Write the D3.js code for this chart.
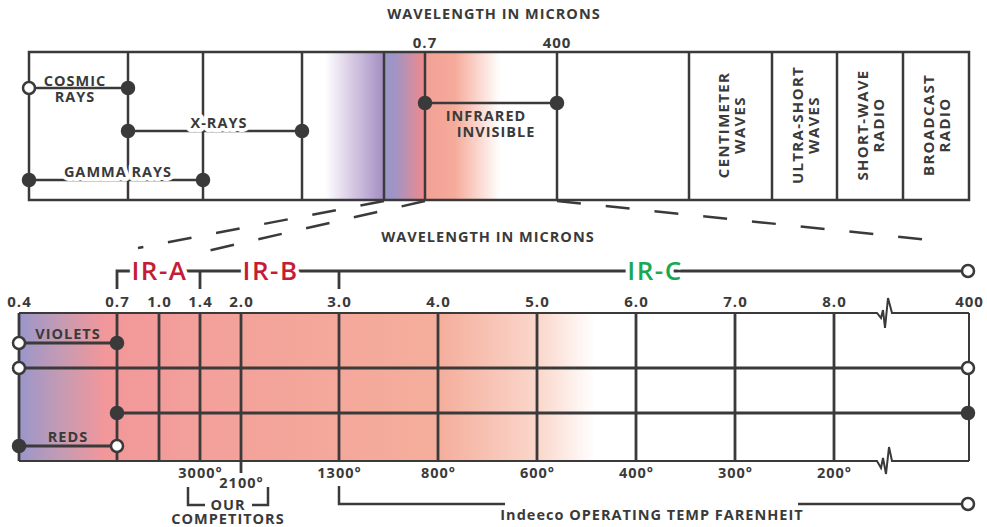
<!DOCTYPE html>
<html>
<head>
<meta charset="utf-8">
<script src="https://cdn.jsdelivr.net/npm/d3@7"></script>
<style>
  body { margin: 0; background: #fff; }
  text { font-family: "Open Sans", sans-serif; font-weight: 700; fill: #3a3a3a; letter-spacing: 1px; }
  .halo { stroke: #fff; stroke-width: 8px; paint-order: stroke; stroke-linejoin: round; }
</style>
</head>
<body>
<div id="chart"></div>
<script>
// ---- data ----
// upper spectrum: column edges (layout) and the ranges spanning them
const spectrumEdges = [29, 128, 203, 302, 384, 425, 557, 689, 772, 837, 903, 969];
const spectrumTickEdges = [5, 6];
const spectrumTickLabels = ["0.7", "400"];
const rangeNames = [["COSMIC", "RAYS"], ["X-RAYS"], ["GAMMA RAYS"], ["INFRARED", "INVISIBLE"]];
const rangeFrom = [0, 1, 0, 5];
const rangeTo = [1, 3, 2, 6];
const rangeStartOpen = [true, false, false, false];
const radioBands = [["CENTIMETER", "WAVES"], ["ULTRA-SHORT", "WAVES"], ["SHORT-WAVE", "RADIO"], ["BROADCAST", "RADIO"]];
const radioCols = [7, 8, 9, 10];

// lower, zoomed infrared scale
const microns = [0.4, 0.7, 1.0, 1.4, 2.0, 3.0, 4.0, 5.0, 6.0, 7.0, 8.0, 400];
const micronLabels = ["0.4", "0.7", "1.0", "1.4", "2.0", "3.0", "4.0", "5.0", "6.0", "7.0", "8.0", "400"];
const tempsF = [null, null, null, 3000, 2100, 1300, 800, 600, 400, 300, 200, null];
const irNames = ["IR-A", "IR-B", "IR-C"];
const irBounds = [0.7, 1.4, 3.0, 400];
const irColors = ["#c41d35", "#c41d35", "#19a853"];
const bandNames = ["VIOLETS", "", "", "REDS"];
const bandFrom = [0.4, 0.4, 0.7, 0.4];
const bandTo = [0.7, 400, 400, 0.7];
const bandEnds = [["open", "filled"], ["open", "open"], ["filled", "filled"], ["filled", "open"]];

// ---- setup ----
const width = 987, height = 527;
const ink = "#3a3a3a";
const svg = d3.select("#chart").append("svg")
    .attr("width", width)
    .attr("height", height);
const defs = svg.append("defs");

function gradient(id, stops) {
    const x0 = stops[0][0], x1 = stops[stops.length - 1][0];
    const g = defs.append("linearGradient").attr("id", id)
        .attr("gradientUnits", "userSpaceOnUse")
        .attr("x1", x0).attr("x2", x1).attr("y1", 0).attr("y2", 0);
    g.selectAll("stop").data(stops).enter().append("stop")
        .attr("offset", d => (d[0] - x0) / (x1 - x0))
        .attr("stop-color", d => d[1]);
}

function dot(sel, cx, cy, open) {
    sel.append("circle").attr("cx", cx).attr("cy", cy).attr("r", 6)
        .attr("fill", open ? "#fff" : ink)
        .attr("stroke", ink).attr("stroke-width", 2.5);
}

// ---- upper spectrum box ----
const topY0 = 52, topY1 = 200;
const xe = i => spectrumEdges[i];

gradient("topGrad", [[325, "#ffffff"], [350, "#dacde6"], [383, "#a58fc3"], [384, "#9996c8"],
    [395, "#9f95c4"], [424, "#f0898c"], [426, "#f3a096"], [455, "#f5ab9a"], [500, "#ffffff"]]);
svg.append("rect").attr("x", xe(3)).attr("y", topY0)
    .attr("width", xe(6) - xe(3)).attr("height", topY1 - topY0)
    .attr("fill", "url(#topGrad)");

const upper = svg.append("g");
upper.selectAll(".col").data(spectrumEdges.slice(1, -1)).enter().append("line")
    .attr("x1", d => d).attr("x2", d => d)
    .attr("y1", topY0).attr("y2", topY1)
    .attr("stroke", ink).attr("stroke-width", 2.5);

const rangeY = [88, 131, 180, 103];
upper.selectAll(".range").data(rangeNames).enter().append("line")
    .attr("x1", (d, i) => xe(rangeFrom[i])).attr("x2", (d, i) => xe(rangeTo[i]))
    .attr("y1", (d, i) => rangeY[i]).attr("y2", (d, i) => rangeY[i])
    .attr("stroke", ink).attr("stroke-width", 2.5);

upper.append("rect").attr("x", xe(0)).attr("y", topY0)
    .attr("width", xe(11) - xe(0)).attr("height", topY1 - topY0)
    .attr("fill", "none").attr("stroke", ink).attr("stroke-width", 2.5);

// range labels
const rangeLabelPos = [[75, 86], [219, 128], [118, 177], [486, 121]];
rangeNames.forEach((lines, i) => {
    const t = upper.append("text").attr("class", i === 1 || i === 2 ? "halo" : null)
        .attr("text-anchor", "middle").attr("font-size", 14.5)
        .attr("x", rangeLabelPos[i][0]).attr("y", rangeLabelPos[i][1]);
    lines.forEach((l, j) => t.append("tspan").attr("x", rangeLabelPos[i][0] + (i === 3 ? j * 10 : 0))
        .attr("dy", j ? 16 : 0).text(l));
});

rangeNames.forEach((d, i) => {
    dot(upper, xe(rangeFrom[i]), rangeY[i], rangeStartOpen[i]);
    dot(upper, xe(rangeTo[i]), rangeY[i], false);
});

// radio columns, rotated
radioBands.forEach((lines, i) => {
    const cx = (xe(radioCols[i]) + xe(radioCols[i] + 1)) / 2;
    const t = upper.append("text").attr("text-anchor", "middle").attr("font-size", 15)
        .style("letter-spacing", "1.3px")
        .attr("transform", `translate(${cx - 2},125) rotate(-90)`);
    lines.forEach((l, j) => t.append("tspan").attr("x", 0).attr("dy", j ? 16 : 0).text(l));
});

upper.append("text").attr("x", 494).attr("y", 19).attr("text-anchor", "middle")
    .attr("font-size", 14.5).text("WAVELENGTH IN MICRONS");
upper.selectAll(".tt").data(spectrumTickLabels).enter().append("text")
    .attr("x", (d, i) => xe(spectrumTickEdges[i])).attr("y", 48)
    .attr("text-anchor", "middle").attr("font-size", 15).text(d => d);

// ---- dashed zoom lines ----
const zoomLines = [[[384, 201], [138, 248]], [[425, 201], [207, 251]], [[557, 201], [930, 240]]];
svg.selectAll(".zoom").data(zoomLines).enter().append("path")
    .attr("d", d3.line())
    .attr("stroke", ink).attr("stroke-width", 2.5)
    .attr("stroke-dasharray", "24 25").attr("fill", "none");

// ---- lower infrared box ----
const x = d3.scaleLinear()
    .domain([0.4, 0.7, 1.0, 1.4, 2.0, 3.0, 8.0, 400])
    .range([19, 117, 159, 200, 241, 339, 834, 969]);
const botY0 = 313, botY1 = 461;
const bandY = [343, 368, 413, 446];

gradient("botGrad", [[19, "#9a96ca"], [60, "#c49bb4"], [105, "#f2979a"], [200, "#f3a09a"],
    [440, "#f5ae9c"], [538, "#fad7cb"], [595, "#ffffff"]]);
svg.append("rect").attr("x", x(0.4)).attr("y", botY0)
    .attr("width", x(400) - x(0.4)).attr("height", botY1 - botY0)
    .attr("fill", "url(#botGrad)");

const lower = svg.append("g");

// top/bottom edges with break marks between 8.0 and 400
const brk = 877;
const zig = [[0, 0], [4, 5], [6, -3], [8, 15], [11, -15], [15, 0]];
const zigBottom = [[0, 0], [4, 7], [6, -3], [9, 13], [12, -14], [15, 0]];
[[botY0, zig], [botY1, zigBottom]].forEach(([y, z]) => {
    const pts = [[x(0.4), y]].concat(z.map(p => [brk + p[0], y + p[1]]), [[x(400), y]]);
    lower.append("path").attr("d", d3.line()(pts))
        .attr("fill", "none").attr("stroke", ink).attr("stroke-width", 2)
        .attr("stroke-linejoin", "miter");
});

lower.selectAll(".v").data(microns).enter().append("line")
    .attr("x1", d => x(d)).attr("x2", d => x(d))
    .attr("y1", botY0).attr("y2", d => d === 2.0 ? 473 : botY1)
    .attr("stroke", ink).attr("stroke-width", d => d === 400 ? 2 : 2.8);

lower.selectAll(".band").data(bandNames).enter().append("line")
    .attr("x1", (d, i) => x(bandFrom[i])).attr("x2", (d, i) => x(bandTo[i]))
    .attr("y1", (d, i) => bandY[i]).attr("y2", (d, i) => bandY[i])
    .attr("stroke", ink).attr("stroke-width", 2.8);

lower.selectAll(".bandLabel").data(bandNames).enter().append("text")
    .attr("x", 68).attr("y", (d, i) => bandY[i] - 4)
    .attr("text-anchor", "middle").attr("font-size", 14.5).text(d => d);

bandNames.forEach((d, i) => {
    dot(lower, x(bandFrom[i]), bandY[i], bandEnds[i][0] === "open");
    dot(lower, x(bandTo[i]) - (bandTo[i] === 400 ? 1 : 0), bandY[i], bandEnds[i][1] === "open");
});

// micron axis
const axisTop = svg.append("g").attr("transform", `translate(0,307)`)
    .call(d3.axisTop(x).tickValues(microns).tickSize(0).tickPadding(0)
        .tickFormat((d, i) => micronLabels[i]));
axisTop.select(".domain").remove();
axisTop.attr("font-family", null).attr("font-size", null);
axisTop.selectAll("text").attr("font-size", 15).attr("fill", ink);

// temperature axis
const tempTicks = microns.filter((d, i) => tempsF[i] !== null);
const axisBot = svg.append("g").attr("transform", `translate(0,478)`)
    .call(d3.axisBottom(x).tickValues(tempTicks).tickSize(0).tickPadding(0)
        .tickFormat(d => tempsF[microns.indexOf(d)] + "°"));
axisBot.select(".domain").remove();
axisBot.attr("font-family", null).attr("font-size", null);
axisBot.selectAll("text").attr("font-size", 14.5).attr("fill", ink)
    .attr("dy", 0).attr("y", d => d === 2.0 ? 10 : 0);

svg.append("text").attr("x", 488).attr("y", 242).attr("text-anchor", "middle")
    .attr("font-size", 14.5).text("WAVELENGTH IN MICRONS");

// IR brackets
const irY = 271, irTickY = 289;
const irPath = [[x(0.7), irTickY], [x(0.7), irY], [x(400) - 7, irY]];
svg.append("path").attr("d", d3.line()(irPath)).attr("fill", "none")
    .attr("stroke", ink).attr("stroke-width", 2.8);
svg.selectAll(".irTick").data(irBounds.slice(1, -1)).enter().append("line")
    .attr("x1", d => x(d)).attr("x2", d => x(d))
    .attr("y1", irY).attr("y2", irTickY)
    .attr("stroke", ink).attr("stroke-width", 2.8);
svg.selectAll(".ir").data(irNames).enter().append("text")
    .attr("class", "halo")
    .attr("x", (d, i) => (x(irBounds[i]) + x(irBounds[i + 1])) / 2 + 1)
    .attr("y", 280).attr("text-anchor", "middle").attr("font-size", 26)
    .style("letter-spacing", "1.5px")
    .style("fill", (d, i) => irColors[i]).style("font-weight", 600)
    .text(d => d);
dot(svg, x(400) - 1, irY, true);

// OUR COMPETITORS bracket
const cL = x(1.4) - 12, cR = x(2.0) + 27, cTop = 487, cBot = 505;
svg.append("path").attr("d", d3.line()([[cL, cTop], [cL, cBot], [cL + 17, cBot]]))
    .attr("fill", "none").attr("stroke", ink).attr("stroke-width", 2.5);
svg.append("path").attr("d", d3.line()([[cR - 16, cBot], [cR, cBot], [cR, cTop]]))
    .attr("fill", "none").attr("stroke", ink).attr("stroke-width", 2.5);
svg.append("text").attr("x", (cL + cR) / 2).attr("y", 510).attr("text-anchor", "middle")
    .attr("font-size", 14.5).text("OUR");
svg.append("text").attr("x", (cL + cR) / 2).attr("y", 524).attr("text-anchor", "middle")
    .attr("font-size", 14.5).text("COMPETITORS");

// operating temperature bracket
const oY = 504;
svg.append("path").attr("d", d3.line()([[x(3.0), 486], [x(3.0), oY], [505, oY]]))
    .attr("fill", "none").attr("stroke", ink).attr("stroke-width", 2.5);
svg.append("path").attr("d", d3.line()([[798, oY], [x(400) - 7, oY]]))
    .attr("fill", "none").attr("stroke", ink).attr("stroke-width", 2.5);
dot(svg, x(400) - 1, oY, true);
svg.append("text").attr("x", 652).attr("y", 520).attr("text-anchor", "middle")
    .attr("font-size", 14.5).text("Indeeco OPERATING TEMP FARENHEIT");
</script>
</body>
</html>
